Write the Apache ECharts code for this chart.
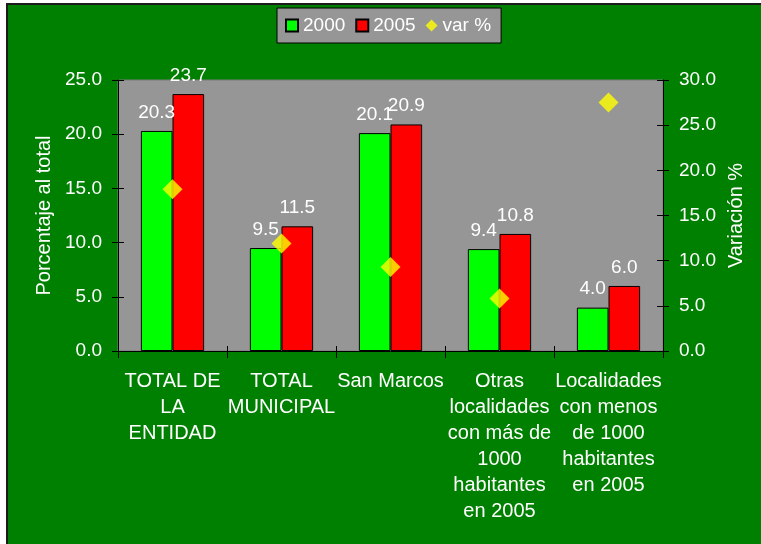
<!DOCTYPE html>
<html>
<head>
<meta charset="utf-8">
<script src="https://cdn.jsdelivr.net/npm/echarts@6/dist/echarts.min.js"></script>
<style>
  html, body { margin: 0; padding: 0; background: #ffffff; }
  #frame {
    position: absolute; left: 6px; top: 3px; width: 760px; height: 545px;
    background: #008000; border-left: 2px solid #1c1c1c; border-top: 2px solid #1c1c1c;
  }
  #chart { position: absolute; left: 0; top: 0; width: 761px; height: 544px; }
</style>
</head>
<body>
<div id="frame"></div>
<div id="chart"></div>
<script>
// Categories (tick labels, pre-wrapped)
const categories = [
  'TOTAL DE\nLA\nENTIDAD',
  'TOTAL\nMUNICIPAL',
  'San Marcos',
  'Otras\nlocalidades\ncon más de\n1000\nhabitantes\nen 2005',
  'Localidades\ncon menos\nde 1000\nhabitantes\nen 2005'
];
// Share of total population (%)
const values2000 = [20.3, 9.5, 20.1, 9.4, 4.0];
const values2005 = [23.7, 11.5, 20.9, 10.8, 6.0];
// Variation (%) on the right axis
const variation = [17.9, 11.9, 9.3, 5.8, 27.5];

const leftTicks = { min: 0, max: 25, interval: 5 };
const rightTicks = { min: 0, max: 30, interval: 5 };

const FONT = 'Liberation Sans, Arial, sans-serif';
const WHITE = '#ffffff';

const chart = echarts.init(document.getElementById('chart'), null, { renderer: 'canvas' });

const valueLabel = {
  show: true, position: 'top', distance: 9, color: WHITE,
  fontFamily: FONT, fontSize: 19,
  formatter: p => p.value.toFixed(1)
};

chart.setOption({
  backgroundColor: 'transparent',
  animation: false,
  textStyle: { fontFamily: FONT },
  legend: {
    left: 277, top: 8,
    backgroundColor: '#969696', borderColor: '#000', borderWidth: 1,
    padding: [8, 10, 8, 8], itemGap: 10, itemWidth: 12, itemHeight: 12,
    textStyle: { color: WHITE, fontSize: 19, fontFamily: FONT },
    data: [
      { name: '2000', icon: 'rect' },
      { name: '2005', icon: 'rect' },
      { name: 'var %', icon: 'path://M7,0 L14,7 L7,14 L0,7 Z', itemStyle: { borderWidth: 0 } }
    ]
  },
  grid: {
    left: 118, right: 98, top: 80, bottom: 193,
    show: true, backgroundColor: '#969696', borderColor: '#7a7a7a', borderWidth: 1
  },
  xAxis: [
    {
      type: 'category', data: categories, position: 'bottom',
      axisLine: { lineStyle: { color: '#000', width: 1 } },
      axisTick: { show: true, length: 7, lineStyle: { color: '#000' } },
      axisLabel: {
        color: WHITE, fontSize: 20, fontFamily: FONT, lineHeight: 26,
        margin: 17, interval: 0, align: 'center'
      }
    },
    {
      type: 'category', data: categories, position: 'bottom',
      axisLine: { show: false },
      axisTick: { show: true, inside: true, length: 5, lineStyle: { color: '#000' } },
      axisLabel: { show: false }
    }
  ],
  yAxis: [
    {
      type: 'value', position: 'left', ...leftTicks,
      name: 'Porcentaje al total', nameLocation: 'middle', nameGap: 62,
      nameTextStyle: { color: WHITE, fontSize: 20, fontFamily: FONT },
      axisLine: { show: true, lineStyle: { color: '#000' } },
      axisTick: { show: true, length: 6, lineStyle: { color: '#000' } },
      axisLabel: { color: WHITE, fontSize: 19, fontFamily: FONT, margin: 16, formatter: v => v.toFixed(1) },
      splitLine: { show: false }
    },
    {
      type: 'value', position: 'right', ...rightTicks,
      name: 'Variación %', nameLocation: 'middle', nameGap: 62,
      nameTextStyle: { color: WHITE, fontSize: 20, fontFamily: FONT },
      axisLine: { show: true, lineStyle: { color: '#000' } },
      axisTick: { show: true, length: 6, lineStyle: { color: '#000' } },
      axisLabel: { color: WHITE, fontSize: 19, fontFamily: FONT, margin: 16, formatter: v => v.toFixed(1) },
      splitLine: { show: false }
    },
    {
      type: 'value', position: 'left', ...leftTicks,
      axisLine: { show: false },
      axisTick: { show: true, inside: true, length: 6, lineStyle: { color: '#000' } },
      axisLabel: { show: false }, splitLine: { show: false }
    },
    {
      type: 'value', position: 'right', ...rightTicks,
      axisLine: { show: false },
      axisTick: { show: true, inside: true, length: 6, lineStyle: { color: '#000' } },
      axisLabel: { show: false }, splitLine: { show: false }
    }
  ],
  series: [
    {
      name: '2000', type: 'bar', data: values2000, yAxisIndex: 0,
      barGap: '0%', barCategoryGap: '42%',
      itemStyle: { color: '#00ff00', borderColor: '#000', borderWidth: 1 },
      label: valueLabel
    },
    {
      name: '2005', type: 'bar', data: values2005, yAxisIndex: 0,
      itemStyle: { color: '#ff0000', borderColor: '#000', borderWidth: 1 },
      label: valueLabel
    },
    {
      name: 'var %', type: 'scatter', data: variation, yAxisIndex: 1,
      symbol: 'diamond', symbolSize: 20, z: 5,
      itemStyle: { color: '#ffff00' }
    }
  ]
});
</script>
</body>
</html>
